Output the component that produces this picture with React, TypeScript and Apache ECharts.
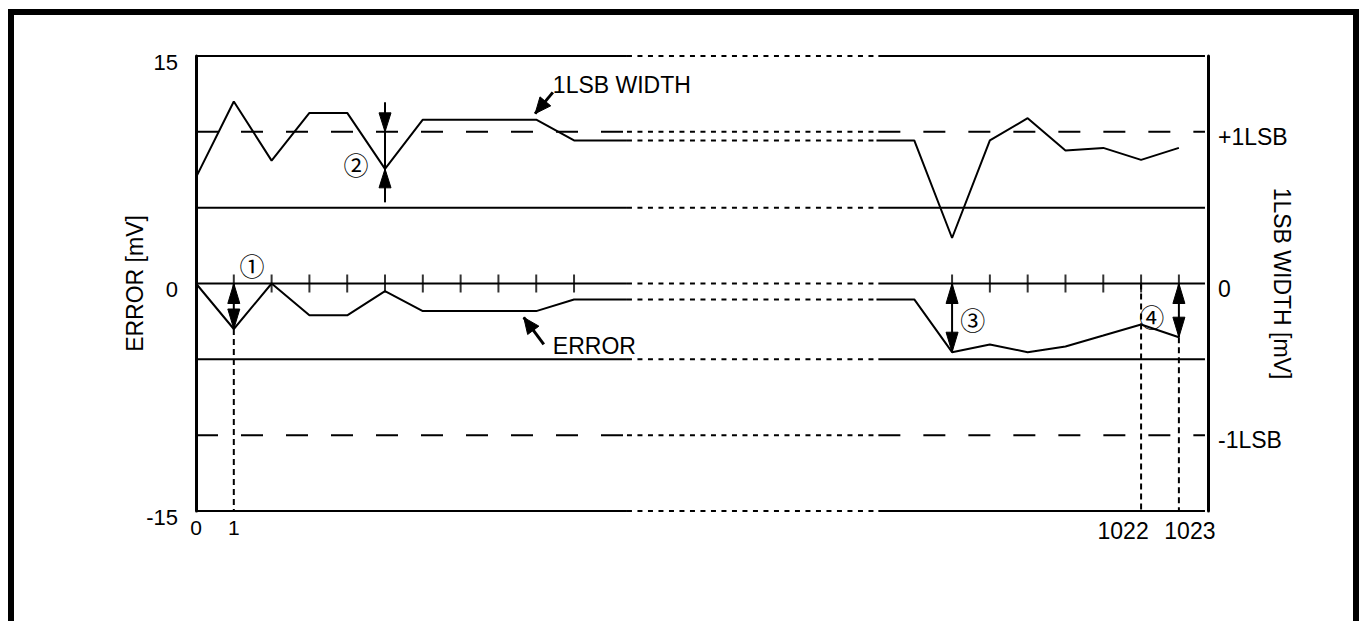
import React, { useEffect, useRef } from 'react';
import * as echarts from 'echarts';

// ---------------- data ----------------
const leftCodes = [0, 1, 2, 3, 4, 5, 6, 7, 8, 9, 10];
const rightCodes = [1016, 1017, 1018, 1019, 1020, 1021, 1022, 1023];
const lsbWidthLeft = [7.0, 12.0, 8.1, 11.25, 11.25, 7.56, 10.8, 10.8, 10.8, 10.8, 9.43];
const lsbWidthRight = [9.43, 3.0, 9.43, 10.9, 8.77, 8.94, 8.15, 8.94];
const errorLeft = [0, -3.0, 0, -2.1, -2.1, -0.5, -1.82, -1.82, -1.82, -1.82, -1.05];
const errorRight = [-1.05, -4.53, -4.02, -4.53, -4.15, -3.43, -2.7, -3.54];
const levelValues = [15, 10, 5, 0, -5, -10, -15];
const levelKinds = ['solid', 'dashed', 'solid', 'solid', 'solid', 'dashed', 'solid'];
const xTickCodes = [0, 1, 1022, 1023];
const leftTickValues = [15, 0, -15];
const rightTickValues = [10, 0, -10];
const rightTickTexts = ['+1LSB', '0', '-1LSB'];
const LSB_LEVEL = 10;

// ---------------- layout (broken x axis) ----------------
const RIGHT_FIRST_SLOT = 19;
const BREAK_FROM = 11.4;
const BREAK_TO = 18.05;
const X_MAX = 26.77;
const FONT = 'Liberation Sans, Arial, sans-serif';

const slotOf = (code: number) => {
  const i = leftCodes.indexOf(code);
  if (i >= 0) return i;
  return RIGHT_FIRST_SLOT + rightCodes.indexOf(code);
};

const annotations = {
  dim: { code: 5, top: 11.95, bottom: 5.35 },
  circled: [
    { text: '①', slot: 1.48, value: 1.25 },
    { text: '②', slot: 4.23, value: 7.91 },
    { text: '③', slot: 20.55, value: -2.37 },
    { text: '④', slot: 25.28, value: -2.11 },
  ],
  lsbLeader: { tip: [8.97, 11.2], tail: [9.44, 12.6], text: '1LSB WIDTH', at: [9.44, 13.09] },
  errLeader: { tip: [8.67, -2.24], tail: [9.2, -4.02], text: 'ERROR', at: [9.44, -4.09] },
};

export default function App() {
  const ref = useRef<HTMLDivElement>(null);

  useEffect(() => {
    if (!ref.current) return;
    const chart = echarts.init(ref.current, undefined, { renderer: 'svg' });

    const series: any[] = [];
    const black = '#000';
    const dotted = [5, 5.5];
    const dashed = [22, 23];

    // horizontal levels with break
    levelValues.forEach((v, i) => {
      const kind = levelKinds[i] === 'dashed' ? dashed : 'solid';
      const common = { type: 'line', symbol: 'none', silent: true, clip: false, animation: false };
      series.push({ ...common, data: [[0, v], [BREAK_FROM, v]], lineStyle: { color: black, width: 2, type: kind } });
      series.push({ ...common, data: [[BREAK_FROM, v], [BREAK_TO, v]], lineStyle: { color: black, width: 2, type: dotted } });
      series.push({ ...common, data: [[BREAK_TO, v], [X_MAX - 0.08, v]], lineStyle: { color: black, width: 2, type: kind } });
    });

    // curves
    const addCurve = (left: number[], right: number[]) => {
      const common = { type: 'line', symbol: 'none', silent: true, clip: false, animation: false };
      const l = leftCodes.map((c, i) => [slotOf(c), left[i]]);
      l.push([BREAK_FROM, left[left.length - 1]]);
      const r = rightCodes.map((c, i) => [slotOf(c), right[i]]);
      r.unshift([BREAK_TO - 0.05, right[0]]);
      series.push({ ...common, data: l, lineStyle: { color: black, width: 2 } });
      series.push({ ...common, data: [[BREAK_FROM, left[left.length - 1]], [BREAK_TO - 0.05, right[0]]], lineStyle: { color: black, width: 2, type: dotted } });
      series.push({ ...common, data: r, lineStyle: { color: black, width: 2 } });
    };
    addCurve(lsbWidthLeft, lsbWidthRight);
    addCurve(errorLeft, errorRight);

    // ticks on zero line
    const tickCodes = [...leftCodes.slice(1), ...rightCodes.slice(1)];
    series.push({
      type: 'scatter', silent: true, clip: false, animation: false,
      symbol: 'rect', symbolSize: [2, 18],
      itemStyle: { color: black },
      data: tickCodes.map((c) => [slotOf(c), 0]),
    });

    // annotations
    series.push({
      type: 'custom', silent: true, clip: false, animation: false,
      data: [0],
      renderItem: (params: any, api: any) => {
        const P = (x: number, y: number) => api.coord([x, y]);
        const children: any[] = [];
        const seg = (a: number[], b: number[], dash?: number[], w = 2) => {
          children.push({
            type: 'line',
            shape: { x1: a[0], y1: a[1], x2: b[0], y2: b[1] },
            style: { stroke: black, lineWidth: w, lineDash: dash || null, fill: null },
          });
        };
        const head = (tip: number[], from: number[], L: number, W: number) => {
          const dx = tip[0] - from[0];
          const dy = tip[1] - from[1];
          const len = Math.hypot(dx, dy) || 1;
          const ux = dx / len, uy = dy / len;
          const bx = tip[0] - ux * L, by = tip[1] - uy * L;
          children.push({
            type: 'polygon',
            shape: { points: [[tip[0], tip[1]], [bx - uy * W, by + ux * W], [bx + uy * W, by - ux * W]] },
            style: { fill: black, stroke: black, lineWidth: 1 },
          });
        };
        const dbl = (code: number, v: number) => {
          const a = P(slotOf(code), 0);
          const b = P(slotOf(code), v);
          seg(a, b);
          head(a, b, 20, 6);
          head(b, a, 20, 6);
        };
        dbl(1, errorLeft[1]);
        dbl(1017, errorRight[1]);
        dbl(1023, errorRight[7]);

        // dimension at code 5
        const d = annotations.dim;
        const dx = slotOf(d.code);
        const top = P(dx, d.top), bottom = P(dx, d.bottom);
        seg(top, bottom);
        head(P(dx, LSB_LEVEL), top, 19, 6);
        head(P(dx, lsbWidthLeft[leftCodes.indexOf(d.code)]), bottom, 19, 6);

        // dotted verticals
        seg(P(slotOf(1), errorLeft[1]), P(slotOf(1), -15), [6, 4]);
        seg(P(slotOf(1022), 0), P(slotOf(1022), -15), [6, 4]);
        seg(P(slotOf(1023), errorRight[7]), P(slotOf(1023), -15), [6, 4]);

        // leaders
        [annotations.lsbLeader, annotations.errLeader].forEach((ld) => {
          const tip = P(ld.tip[0], ld.tip[1]);
          const tail = P(ld.tail[0], ld.tail[1]);
          seg(tail, tip, undefined, 3);
          head(tip, tail, 16, 7);
          const at = P(ld.at[0], ld.at[1]);
          children.push({
            type: 'text', x: at[0], y: at[1],
            style: { text: ld.text, fill: black, fontSize: 23, fontFamily: FONT, align: 'left', verticalAlign: 'middle' },
          });
        });

        annotations.circled.forEach((c) => {
          const p = P(c.slot, c.value);
          children.push({
            type: 'text', x: p[0], y: p[1],
            style: { text: c.text, fill: black, fontSize: 25, fontFamily: 'Noto Sans CJK JP', align: 'center', verticalAlign: 'middle' },
          });
        });

        return { type: 'group', children };
      },
    });

    const near = (a: number, b: number) => Math.abs(a - b) < 1e-6;

    chart.setOption({
      animation: false,
      backgroundColor: '#fff',
      grid: { left: 196, right: 151, top: 56, bottom: 110, containLabel: false, outerBoundsMode: 'none' },
      xAxis: {
        type: 'value', min: 0, max: X_MAX, interval: 1,
        axisLine: { show: false }, axisTick: { show: false }, splitLine: { show: false },
        axisLabel: {
          margin: 6, color: black, fontFamily: FONT, fontSize: 20,
          showMinLabel: true, showMaxLabel: true,
          formatter: (v: number) => {
            const c = xTickCodes.find((code) => near(slotOf(code), v));
            if (c === undefined) return '';
            if (c === 1022) return '{l|' + c + '}';
            if (c === 1023) return '{r|' + c + '}';
            return '{s|' + c + '}';
          },
          rich: {
            s: { fontSize: 21, fontFamily: FONT, color: black },
            l: { fontSize: 23, fontFamily: FONT, color: black, padding: [2, 36, 0, 0] },
            r: { fontSize: 23, fontFamily: FONT, color: black, padding: [2, 0, 0, 22] },
          },
        },
      },
      yAxis: [
        {
          type: 'value', min: -15, max: 15, interval: 5, position: 'left',
          name: 'ERROR [mV]', nameLocation: 'middle', nameRotate: 90, nameGap: 50, nameMoveOverlap: false,
          nameTextStyle: { color: black, fontSize: 23, fontFamily: FONT },
          axisLine: { show: true, lineStyle: { color: black, width: 3 } },
          axisTick: { show: false }, splitLine: { show: false },
          axisLabel: {
            margin: 18, color: black,
            formatter: (v: number) => (leftTickValues.some((t) => near(t, v)) ? '{a|' + v + '}' : ''),
            rich: { a: { fontSize: 22, fontFamily: FONT, color: black, padding: [12, 0, 0, 0] } },
          },
        },
        {
          type: 'value', min: -15, max: 15, interval: 5, position: 'right',
          name: '1LSB WIDTH [mV]', nameLocation: 'middle', nameRotate: -90, nameGap: 62, nameMoveOverlap: false,
          nameTextStyle: { color: black, fontSize: 23, fontFamily: FONT },
          axisLine: { show: true, onZero: false, lineStyle: { color: black, width: 3 } },
          axisTick: { show: false }, splitLine: { show: false },
          axisLabel: {
            margin: 10, color: black,
            formatter: (v: number) => {
              const i = rightTickValues.findIndex((t) => near(t, v));
              return i >= 0 ? '{a|' + rightTickTexts[i] + '}' : '';
            },
            rich: { a: { fontSize: 23, fontFamily: FONT, color: black, padding: [10, 0, 0, 0] } },
          },
        },
      ],
      graphic: [
        {
          type: 'rect', silent: true,
          shape: { x: 11, y: 12, width: 1345, height: 800 },
          style: { fill: 'none', stroke: black, lineWidth: 6 },
          z: 100,
        },
      ],
      series,
    });

    return () => chart.dispose();
  }, []);

  return (
    <div
      ref={ref}
      style={{ position: 'fixed', left: 0, top: 0, width: 1359, height: 621, background: '#fff' }}
    />
  );
}
